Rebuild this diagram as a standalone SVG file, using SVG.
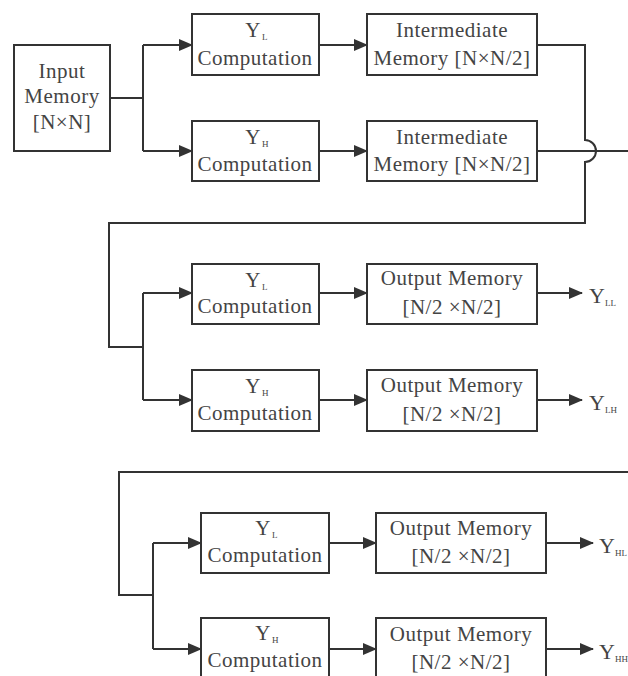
<svg xmlns="http://www.w3.org/2000/svg" width="628" height="676" viewBox="0 0 628 676" font-family="'Liberation Serif', 'Times New Roman', Tinos, Times, serif">
<defs>
<marker id="ah" markerWidth="14" markerHeight="12" refX="13" refY="6" orient="auto" markerUnits="userSpaceOnUse">
<path d="M0,0 L14,6 L0,12 Z" fill="#333"/>
</marker>
<style>
.box{fill:#fff;stroke:#333;stroke-width:2}
.ln{fill:none;stroke:#333;stroke-width:2}
.ar{fill:none;stroke:#333;stroke-width:2;marker-end:url(#ah)}
text{font-family:'Liberation Serif','Times New Roman',Tinos,Times,serif;fill:#444;font-size:21px;text-anchor:middle;letter-spacing:0.5px}
.sub{font-size:9px;letter-spacing:0;text-anchor:start}
.lbl{font-size:22px;text-anchor:start}
</style>
</defs>
<rect width="628" height="676" fill="#fff"/>
<g id="connectors">
<path class="ln" d="M110,98 H143 M143,45 V151"/>
<path class="ar" d="M143,45 H192"/>
<path class="ar" d="M143,151 H192"/>
<path class="ar" d="M319,45 H367"/>
<path class="ar" d="M319,151 H367"/>
<path class="ln" d="M537,45 H585 V140 A11,11 0 0 1 585,162 V223 H109 V347 H143"/>
<path class="ln" d="M537,151 H628"/>
<path class="ln" d="M143,293 V400"/>
<path class="ar" d="M143,293 H192"/>
<path class="ar" d="M143,400 H192"/>
<path class="ar" d="M319,293 H367"/>
<path class="ar" d="M319,400 H367"/>
<path class="ar" d="M537,293 H582"/>
<path class="ar" d="M537,400 H582"/>
<path class="ln" d="M628,472 H119 V595 H153 M153,543 V649"/>
<path class="ar" d="M153,543 H201"/>
<path class="ar" d="M153,649 H201"/>
<path class="ar" d="M329,543 H376"/>
<path class="ar" d="M329,649 H376"/>
<path class="ar" d="M546,543 H593"/>
<path class="ar" d="M546,649 H593"/>
</g>
<g id="input">
<rect class="box" x="14" y="45" width="96" height="106"/>
<text x="62" y="78">Input</text>
<text x="62" y="103">Memory</text>
<text x="62" y="129">[N×N]</text>
</g>
<g id="yl1">
<rect class="box" x="192" y="14" width="127" height="61"/>
<text x="253" y="37">Y</text><text class="sub" x="262" y="40">L</text>
<text x="255" y="65">Computation</text>
</g>
<g id="yh1">
<rect class="box" x="192" y="121" width="127" height="60"/>
<text x="253" y="144">Y</text><text class="sub" x="262" y="147">H</text>
<text x="255" y="171">Computation</text>
</g>
<g id="im1">
<rect class="box" x="367" y="14" width="170" height="61"/>
<text x="452" y="37">Intermediate</text>
<text x="452" y="65">Memory [N×N/2]</text>
</g>
<g id="im2">
<rect class="box" x="367" y="121" width="170" height="60"/>
<text x="452" y="144">Intermediate</text>
<text x="452" y="171">Memory [N×N/2]</text>
</g>
<g id="yl2">
<rect class="box" x="192" y="264" width="127" height="60"/>
<text x="253" y="287">Y</text><text class="sub" x="262" y="290">L</text>
<text x="255" y="313">Computation</text>
</g>
<g id="yh2">
<rect class="box" x="192" y="370" width="127" height="61"/>
<text x="253" y="393">Y</text><text class="sub" x="262" y="396">H</text>
<text x="255" y="420">Computation</text>
</g>
<g id="om1">
<rect class="box" x="367" y="264" width="170" height="60"/>
<text x="452" y="285">Output Memory</text>
<text x="452" y="314">[N/2 ×N/2]</text>
</g>
<g id="om2">
<rect class="box" x="367" y="370" width="170" height="61"/>
<text x="452" y="392">Output Memory</text>
<text x="452" y="421">[N/2 ×N/2]</text>
</g>
<g id="yll"><text class="lbl" x="589" y="303">Y</text><text class="sub" x="605" y="306">LL</text></g>
<g id="ylh"><text class="lbl" x="589" y="410">Y</text><text class="sub" x="605" y="413">LH</text></g>
<g id="yl3">
<rect class="box" x="201" y="513" width="128" height="60"/>
<text x="263" y="535">Y</text><text class="sub" x="272" y="538">L</text>
<text x="265" y="562">Computation</text>
</g>
<g id="yh3">
<rect class="box" x="201" y="618" width="128" height="62"/>
<text x="263" y="640">Y</text><text class="sub" x="272" y="643">H</text>
<text x="265" y="667">Computation</text>
</g>
<g id="om3">
<rect class="box" x="376" y="513" width="170" height="60"/>
<text x="461" y="535">Output Memory</text>
<text x="461" y="563">[N/2 ×N/2]</text>
</g>
<g id="om4">
<rect class="box" x="376" y="618" width="170" height="62"/>
<text x="461" y="641">Output Memory</text>
<text x="461" y="669">[N/2 ×N/2]</text>
</g>
<g id="yhl"><text class="lbl" x="599" y="553">Y</text><text class="sub" x="615" y="556">HL</text></g>
<g id="yhh"><text class="lbl" x="599" y="659">Y</text><text class="sub" x="615" y="662">HH</text></g>
</svg>
